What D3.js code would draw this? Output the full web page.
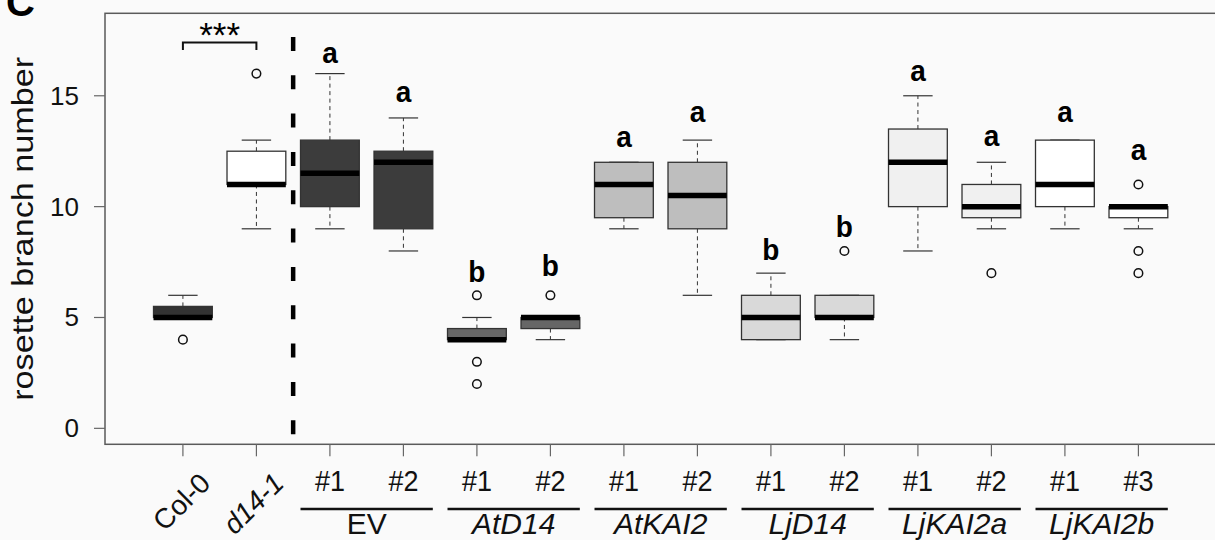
<!DOCTYPE html>
<html>
<head>
<meta charset="utf-8">
<script src="https://cdn.jsdelivr.net/npm/d3@7"></script>
<style>
  body { margin: 0; background: #fafafa; }
  text { font-family: "Liberation Sans", Arial, sans-serif; }
</style>
</head>
<body>
<div id="chart"></div>
<script>
(function() {
    const width = 1215;
    const height = 540;

    // one entry per box, left to right
    const lineLabels = ["Col-0", "d14-1", "#1", "#2", "#1", "#2", "#1", "#2", "#1", "#2", "#1", "#2", "#1", "#3"];
    const whiskerLow = [5, 9, 9, 8, 4, 4, 9, 6, 4, 4, 8, 9, 9, 9];
    const q1 = [5, 11, 10, 9, 4, 4.5, 9.5, 9, 4, 5, 10, 9.5, 10, 9.5];
    const medians = [5, 11, 11.5, 12, 4, 5, 11, 10.5, 5, 5, 12, 10, 11, 10];
    const q3 = [5.5, 12.5, 13, 12.5, 4.5, 5, 12, 12, 6, 6, 13.5, 11, 13, 10];
    const whiskerHigh = [6, 13, 16, 14, 5, 5, 12, 13, 7, 6, 15, 12, 13, 10];
    const outliers = [[4], [16], [], [], [6, 3, 2], [6], [], [], [], [8], [], [7], [], [11, 8, 7]];
    const boxFills = ["#333333", "#ffffff", "#3c3c3c", "#3c3c3c", "#666666", "#666666", "#bebebe", "#bebebe",
                      "#d9d9d9", "#d9d9d9", "#f0f0f0", "#f0f0f0", "#ffffff", "#ffffff"];

    // significance letters and where they sit (in y units)
    const sigLetters = ["", "", "a", "a", "b", "b", "a", "a", "b", "b", "a", "a", "a", "a"];
    const letterY = [0, 0, 16.5, 14.7, 6.6, 6.85, 12.7, 13.8, 7.6, 8.65, 15.65, 12.75, 13.8, 12.1];

    // construct groups under the line numbers
    const groups = [
        {name: "EV", from: 3, to: 4, italic: false},
        {name: "AtD14", from: 5, to: 6, italic: true},
        {name: "AtKAI2", from: 7, to: 8, italic: true},
        {name: "LjD14", from: 9, to: 10, italic: true},
        {name: "LjKAI2a", from: 11, to: 12, italic: true},
        {name: "LjKAI2b", from: 13, to: 14, italic: true}
    ];

    const yTicks = [0, 5, 10, 15];

    const plotLeft = 105, plotTop = 13.3, plotBottom = 444.3;
    const n = lineLabels.length;

    // R style ranges: 0.5..n+0.5 and 0..18, each padded by 4%
    const x = d3.scaleLinear()
        .domain([0.5 - 0.04 * n, n + 0.5 + 0.04 * n])
        .range([plotLeft, plotLeft + 73.5 * n * 1.08]);
    const y = d3.scaleLinear()
        .domain([-0.72, 18.72])
        .range([plotBottom, plotTop]);

    const halfBox = 0.4; // boxwex 0.8
    const halfCap = 0.2;

    const svg = d3.select("#chart").append("svg")
        .attr("width", width)
        .attr("height", height)
        .style("background", "#fafafa");

    // panel letter
    svg.append("text")
        .attr("x", 6)
        .attr("y", 16)
        .attr("font-size", 40)
        .attr("font-weight", "bold")
        .text("C");

    const boxes = d3.range(n).map(i => ({
        pos: i + 1,
        lo: whiskerLow[i], q1: q1[i], med: medians[i], q3: q3[i], hi: whiskerHigh[i],
        out: outliers[i], fill: boxFills[i]
    }));

    const g = svg.append("g");

    // whiskers (dashed)
    g.selectAll("line.whisk-up")
        .data(boxes.filter(d => d.hi > d.q3))
        .enter().append("line")
        .attr("x1", d => x(d.pos)).attr("x2", d => x(d.pos))
        .attr("y1", d => y(d.q3)).attr("y2", d => y(d.hi))
        .attr("stroke", "#333").attr("stroke-width", 1)
        .attr("stroke-dasharray", "4,3.5");
    g.selectAll("line.whisk-down")
        .data(boxes.filter(d => d.lo < d.q1))
        .enter().append("line")
        .attr("x1", d => x(d.pos)).attr("x2", d => x(d.pos))
        .attr("y1", d => y(d.q1)).attr("y2", d => y(d.lo))
        .attr("stroke", "#333").attr("stroke-width", 1)
        .attr("stroke-dasharray", "4,3.5");

    // staples
    const staples = [];
    boxes.forEach(d => { staples.push({pos: d.pos, v: d.hi}); staples.push({pos: d.pos, v: d.lo}); });
    g.selectAll("line.staple")
        .data(staples)
        .enter().append("line")
        .attr("x1", d => x(d.pos - halfCap)).attr("x2", d => x(d.pos + halfCap))
        .attr("y1", d => y(d.v)).attr("y2", d => y(d.v))
        .attr("stroke", "#333").attr("stroke-width", 1.2);

    // boxes
    g.selectAll("rect")
        .data(boxes)
        .enter().append("rect")
        .attr("x", d => x(d.pos - halfBox))
        .attr("width", d => x(d.pos + halfBox) - x(d.pos - halfBox))
        .attr("y", d => y(d.q3))
        .attr("height", d => Math.max(0.5, y(d.q1) - y(d.q3)))
        .attr("fill", d => d.fill)
        .attr("stroke", "#333").attr("stroke-width", 1.3);

    // medians
    g.selectAll("line.median")
        .data(boxes)
        .enter().append("line")
        .attr("x1", d => x(d.pos - halfBox)).attr("x2", d => x(d.pos + halfBox))
        .attr("y1", d => y(d.med)).attr("y2", d => y(d.med))
        .attr("stroke", "#000").attr("stroke-width", 5.5);

    // outliers
    const outPts = [];
    boxes.forEach(d => d.out.forEach(v => outPts.push({pos: d.pos, v: v})));
    g.selectAll("circle")
        .data(outPts)
        .enter().append("circle")
        .attr("cx", d => x(d.pos)).attr("cy", d => y(d.v))
        .attr("r", 4.3)
        .attr("fill", "none").attr("stroke", "#111").attr("stroke-width", 1.5);

    // significance letters
    g.selectAll("text.sig")
        .data(boxes.map((d, i) => ({pos: d.pos, t: sigLetters[i], v: letterY[i]})).filter(d => d.t))
        .enter().append("text")
        .attr("transform", d => `translate(${x(d.pos)},${y(d.v)}) scale(1,1.08)`)
        .attr("text-anchor", "middle")
        .attr("font-size", 28).attr("font-weight", "bold")
        .text(d => d.t);

    // Col-0 vs d14-1 bracket
    const bracketY = y(17.4);
    svg.append("path")
        .attr("d", `M${x(1)},${bracketY + 7.5}V${bracketY}H${x(2)}V${bracketY + 7.5}`)
        .attr("fill", "none").attr("stroke", "#111").attr("stroke-width", 2);
    svg.append("text")
        .attr("x", x(1.5)).attr("y", bracketY + 4.5)
        .attr("text-anchor", "middle")
        .attr("font-size", 35)
        .text("***");

    // vertical separator between controls and constructs
    svg.append("line")
        .attr("x1", x(2.5)).attr("x2", x(2.5))
        .attr("y1", plotTop).attr("y2", plotBottom)
        .attr("stroke", "#000").attr("stroke-width", 4.5)
        .attr("stroke-dasharray", "14,24.33")
        .attr("stroke-dashoffset", 14.67);

    // frame (right edge runs off the picture)
    svg.append("rect")
        .attr("x", plotLeft).attr("y", plotTop)
        .attr("width", x.range()[1] - plotLeft)
        .attr("height", plotBottom - plotTop)
        .attr("fill", "none").attr("stroke", "#5a5a5a").attr("stroke-width", 1.5);

    // y axis
    const ya = svg.append("g");
    ya.selectAll("line")
        .data(yTicks).enter().append("line")
        .attr("x1", plotLeft - 11).attr("x2", plotLeft)
        .attr("y1", d => y(d)).attr("y2", d => y(d))
        .attr("stroke", "#666").attr("stroke-width", 1.2);
    ya.selectAll("text")
        .data(yTicks).enter().append("text")
        .attr("x", 79).attr("y", d => y(d) + 9)
        .attr("text-anchor", "end")
        .attr("font-size", 26)
        .attr("fill", "#111")
        .text(d => d);

    svg.append("text")
        .attr("transform", `translate(33,${(plotTop + plotBottom) / 2}) rotate(-90) scale(1.18,1)`)
        .attr("text-anchor", "middle")
        .attr("font-size", 29)
        .attr("fill", "#111")
        .text("rosette branch number");

    // x ticks
    svg.append("g").selectAll("line")
        .data(boxes).enter().append("line")
        .attr("x1", d => x(d.pos)).attr("x2", d => x(d.pos))
        .attr("y1", plotBottom).attr("y2", plotBottom + 12)
        .attr("stroke", "#666").attr("stroke-width", 1.2);

    // rotated labels for the two controls
    svg.append("g").selectAll("text")
        .data(boxes.slice(0, 2)).enter().append("text")
        .attr("transform", d => `translate(${x(d.pos) + 29},485) rotate(-45)`)
        .attr("text-anchor", "end")
        .attr("font-size", 28)
        .attr("font-style", (d, i) => i == 1 ? "italic" : "normal")
        .attr("fill", "#111")
        .text((d, i) => lineLabels[i]);

    // line numbers
    svg.append("g").selectAll("text")
        .data(boxes.slice(2)).enter().append("text")
        .attr("transform", d => `translate(${x(d.pos)},491) scale(1,1.12)`)
        .attr("text-anchor", "middle")
        .attr("font-size", 27)
        .attr("fill", "#111")
        .text(d => lineLabels[d.pos - 1]);

    // group underlines and names
    const gg = svg.append("g");
    gg.selectAll("line")
        .data(groups).enter().append("line")
        .attr("x1", d => x(d.from - halfBox)).attr("x2", d => x(d.to + halfBox))
        .attr("y1", 509).attr("y2", 509)
        .attr("stroke", "#111").attr("stroke-width", 2.5);
    gg.selectAll("text")
        .data(groups).enter().append("text")
        .attr("x", d => x((d.from + d.to) / 2)).attr("y", 534)
        .attr("text-anchor", "middle")
        .attr("font-size", 30)
        .attr("font-style", d => d.italic ? "italic" : "normal")
        .attr("fill", "#111")
        .text(d => d.name);
})();
</script>
</body>
</html>
